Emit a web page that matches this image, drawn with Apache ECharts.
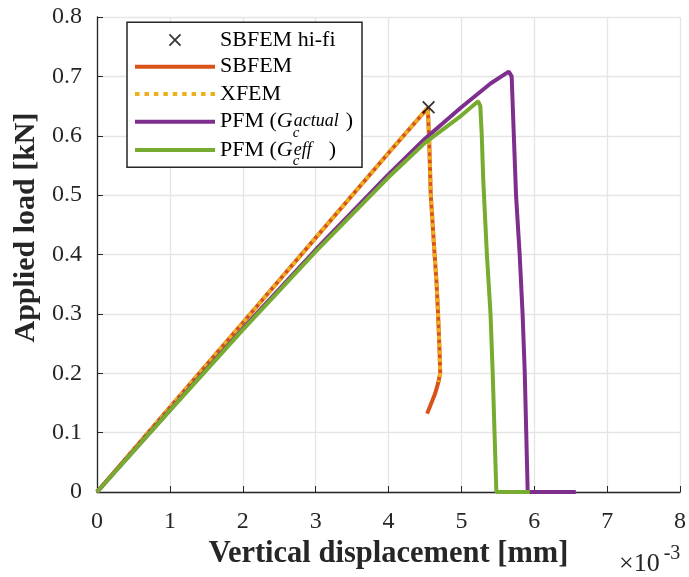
<!DOCTYPE html>
<html><head><meta charset="utf-8">
<script src="https://cdn.jsdelivr.net/npm/echarts@6/dist/echarts.min.js"></script>
<style>html,body{margin:0;padding:0;background:#fff}#c{width:689px;height:577px}</style>
</head><body><div id="c"></div>
<script>
// Data (x in 1e-3 mm, y in kN)
const xTicks = [0, 1, 2, 3, 4, 5, 6, 7, 8];
const yTicks = [0, 0.1, 0.2, 0.3, 0.4, 0.5, 0.6, 0.7, 0.8];
const hifiX = [4.55];
const hifiY = [0.648];
const sbfemX = [0, 1, 2, 3, 4, 4.54, 4.56, 4.58, 4.63, 4.66, 4.68, 4.70, 4.71, 4.68, 4.64, 4.53];
const sbfemY = [0, 0.1426, 0.285, 0.428, 0.571, 0.647, 0.585, 0.50, 0.405, 0.351, 0.30, 0.239, 0.20, 0.183, 0.166, 0.132];
const xfemX = [0, 1, 2, 3, 4, 4.54, 4.56, 4.58, 4.63, 4.66, 4.68, 4.70, 4.71, 4.69];
const xfemY = [0, 0.1426, 0.285, 0.428, 0.571, 0.647, 0.585, 0.50, 0.405, 0.351, 0.30, 0.239, 0.20, 0.185];
const pfmActX = [0, 1, 2, 3, 4, 4.5, 5, 5.4, 5.65, 5.69, 5.72, 5.75, 5.80, 5.84, 5.87, 5.89, 5.91, 6.57];
const pfmActY = [0, 0.138, 0.275, 0.408, 0.535, 0.595, 0.648, 0.688, 0.708, 0.70, 0.6, 0.5, 0.4, 0.3, 0.2, 0.1, 0, 0];
const pfmEffX = [0, 1, 2, 3, 4, 4.5, 5, 5.23, 5.26, 5.28, 5.30, 5.35, 5.40, 5.43, 5.455, 5.48, 5.94];
const pfmEffY = [0, 0.137, 0.273, 0.405, 0.530, 0.588, 0.634, 0.658, 0.65, 0.6, 0.526, 0.4, 0.3, 0.2, 0.1, 0, 0];
const names = ['SBFEM hi-fi', 'SBFEM', 'XFEM', 'PFM (G_c^actual)', 'PFM (G_c^eff)'];

const pairs = (xs, ys) => xs.map((x, i) => [x, ys[i]]);
const serif = 'Liberation Serif';
const txt = '#262626';
const X_SYM = 'path://M1,0 L5,4 L9,0 L10,1 L6,5 L10,9 L9,10 L5,6 L1,10 L0,9 L4,5 L0,1 Z';
const X_ICON = 'path://M-6.2,-6.2 M16.2,16.2 M1,0 L5,4 L9,0 L10,1 L6,5 L10,9 L9,10 L5,6 L1,10 L0,9 L4,5 L0,1 Z';
const LINE_ICON = 'path://M0,0 L80,0 L80,4 L0,4 Z';
let DOT_ICON = 'path://';
for (let k = 0; k < 9; k++) { const x0 = k * 9.4; DOT_ICON += 'M' + x0 + ',0 L' + (x0 + 4.5) + ',0 L' + (x0 + 4.5) + ',4 L' + x0 + ',4 Z '; }
const icons = [X_ICON, LINE_ICON, DOT_ICON, LINE_ICON, LINE_ICON];

// legend layout (pixels)
const RH = 27.5;
const IW = 80;
const rowCenters = [40, 66.7, 94, 121.7, 150];
const legendBox = {x: 127, y: 22.3, width: 235, height: 145};
const iconShift = [(IW - RH) / 2, 0, 0, 0, 0];

const rich = {
  n: {fontFamily: serif, fontSize: 22, color: '#000', lineHeight: RH},
  g: {fontFamily: serif, fontSize: 22, fontStyle: 'italic', color: '#000', lineHeight: RH},
  sub: {fontFamily: serif, fontSize: 15, fontStyle: 'italic', color: '#000', width: 1, height: 5.5, verticalAlign: 'bottom', lineHeight: RH},
  sup: {fontFamily: serif, fontSize: 18, fontStyle: 'italic', color: '#000', width: 52, height: 8, verticalAlign: 'middle', lineHeight: RH},
  sup2: {fontFamily: serif, fontSize: 18, fontStyle: 'italic', color: '#000', width: 35, height: 8, verticalAlign: 'middle', lineHeight: RH}
};
const fmt = function (name) {
  if (name === names[3]) return '{n|PFM (}{g|G}{sub|c}{sup|actual}{n|)}';
  if (name === names[4]) return '{n|PFM (}{g|G}{sub|c}{sup2|eff}{n|)}';
  return '{n|' + name + '}';
};
const legends = names.map((nm, i) => ({
  orient: 'vertical', left: legendBox.x + 8 + iconShift[i], top: rowCenters[i] - RH / 2, padding: 0,
  itemWidth: IW, itemHeight: RH, itemGap: 0, z: 6,
  data: [{name: nm, icon: icons[i]}],
  formatter: fmt,
  textStyle: {fontFamily: serif, fontSize: 22, color: '#000', lineHeight: RH, rich: rich}
}));

const chart = echarts.init(document.getElementById('c'), null, {renderer: 'canvas'});
chart.setOption({
  animation: false,
  backgroundColor: '#fff',
  grid: {left: 97, top: 17, width: 587, height: 475},
  xAxis: {
    type: 'value', min: xTicks[0], max: xTicks[xTicks.length - 1], interval: 1,
    name: 'Vertical displacement [mm]', nameLocation: 'middle', nameGap: 47,
    nameTextStyle: {fontFamily: serif, fontWeight: 'bold', fontSize: 30.5, color: txt},
    axisLine: {lineStyle: {color: txt, width: 1.3}},
    axisTick: {inside: true, length: 6, lineStyle: {color: txt}},
    axisLabel: {fontFamily: serif, fontSize: 24, color: txt, margin: 18,
      formatter: v => String(v)},
    splitLine: {show: true, lineStyle: {color: '#e5e5e5', width: 1.3}}
  },
  yAxis: {
    type: 'value', min: yTicks[0], max: yTicks[yTicks.length - 1], interval: 0.1,
    name: 'Applied load [kN]', nameLocation: 'middle', nameGap: 44,
    nameTextStyle: {fontFamily: serif, fontWeight: 'bold', fontSize: 30, color: txt, padding: [0, 0, 0, 54]},
    axisLine: {show: true, lineStyle: {color: txt, width: 1.3}},
    axisTick: {show: true, inside: true, length: 6, lineStyle: {color: txt}},
    axisLabel: {fontFamily: serif, fontSize: 24, color: txt, margin: 15,
      formatter: v => (Math.abs(v) < 1e-9 ? '0' : v.toFixed(1))},
    splitLine: {show: true, lineStyle: {color: '#e5e5e5', width: 1.3}}
  },
  legend: legends,
  graphic: [{
    type: 'rect', z: 1,
    shape: {x: legendBox.x, y: legendBox.y, width: legendBox.width, height: legendBox.height},
    style: {fill: '#fff', stroke: txt, lineWidth: 1.5}
  }, {
    type: 'text', left: 619, top: 544,
    style: {
      rich: {
        a: {fontFamily: serif, fontSize: 26, fill: txt},
        b: {fontFamily: serif, fontSize: 20, fill: txt, verticalAlign: 'top', height: 6, padding: [0, 0, 0, 4]}
      },
      text: '{a|×10}{b|-3}'
    }
  }],
  series: [
    {name: names[1], type: 'line', data: pairs(sbfemX, sbfemY), showSymbol: false, symbol: 'none',
      color: '#D95319', lineStyle: {width: 4, color: '#D95319'}, z: 2},
    {name: names[2], type: 'line', data: pairs(xfemX, xfemY), showSymbol: false, symbol: 'none',
      color: '#EDB120', lineStyle: {width: 4, color: '#EDB120', type: [4, 3.5]}, z: 3},
    {name: names[3], type: 'line', data: pairs(pfmActX, pfmActY), showSymbol: false, symbol: 'none',
      color: '#7E2F8E', lineStyle: {width: 4, color: '#7E2F8E'}, z: 4},
    {name: names[4], type: 'line', data: pairs(pfmEffX, pfmEffY), showSymbol: false, symbol: 'none',
      color: '#77AC30', lineStyle: {width: 4, color: '#77AC30'}, z: 5},
    {name: names[0], type: 'scatter', data: pairs(hifiX, hifiY), symbol: X_SYM, symbolSize: 13,
      color: '#000', itemStyle: {color: '#000'}, z: 10}
  ]
});
</script>
</body></html>
